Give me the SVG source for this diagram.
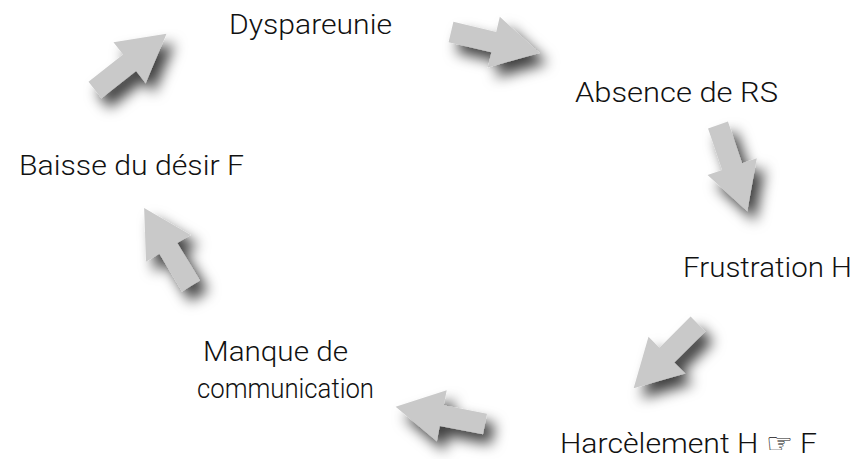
<svg xmlns="http://www.w3.org/2000/svg" xmlns:xlink="http://www.w3.org/1999/xlink" width="854" height="459" viewBox="0 0 854 459">
  <style>
    .lbl { font-family: "Roboto", "Liberation Sans", "DejaVu Sans", Arial, sans-serif; font-weight: 300; font-size: 28px; fill: #111; }
    .arr { fill: #c9c9c9; }
  </style>
  <defs>
    <filter id="shadow" x="-60%" y="-60%" width="220%" height="220%">
      <feDropShadow dx="8" dy="10" stdDeviation="7" flood-color="#000" flood-opacity="0.75"/>
    </filter>
    <path id="arrow" d="M0,-10.5 H44 V-26 L91,0 L44,26 V10.5 H0 Z"/>
  </defs>
  <rect width="854" height="459" fill="#fff"/>

  <g id="connectors">
    <g filter="url(#shadow)"><use xlink:href="#arrow" class="arr" transform="translate(451,32) rotate(13.3)"/></g>
    <g filter="url(#shadow)"><use xlink:href="#arrow" class="arr" transform="translate(718,125) rotate(71.2)"/></g>
    <g filter="url(#shadow)"><use xlink:href="#arrow" class="arr" transform="translate(698,324) rotate(135)"/></g>
    <g filter="url(#shadow)"><use xlink:href="#arrow" class="arr" transform="translate(485,424) rotate(190.9)"/></g>
    <g filter="url(#shadow)"><use xlink:href="#arrow" class="arr" transform="translate(191,286) rotate(239)"/></g>
    <g filter="url(#shadow)"><use xlink:href="#arrow" class="arr" transform="translate(95,90) rotate(-38.2)"/></g>
  </g>

  <g id="node-dyspareunie"><text class="lbl" x="229" y="34" textLength="163" lengthAdjust="spacingAndGlyphs">Dyspareunie</text></g>
  <g id="node-absence"><text class="lbl" x="575" y="102" textLength="203" lengthAdjust="spacingAndGlyphs">Absence de RS</text></g>
  <g id="node-frustration"><text class="lbl" x="683" y="277" textLength="169" lengthAdjust="spacingAndGlyphs">Frustration H</text></g>
  <g id="node-harcelement"><text class="lbl" x="560" y="453" textLength="257" lengthAdjust="spacingAndGlyphs">Harcèlement H ☞ F</text></g>
  <g id="node-manque">
    <text class="lbl" x="203" y="361" textLength="145" lengthAdjust="spacingAndGlyphs">Manque de</text>
    <text class="lbl" x="197" y="398" textLength="177" lengthAdjust="spacingAndGlyphs">communication</text>
  </g>
  <g id="node-baisse"><text class="lbl" x="19" y="175" textLength="225" lengthAdjust="spacingAndGlyphs">Baisse du désir F</text></g>
</svg>
